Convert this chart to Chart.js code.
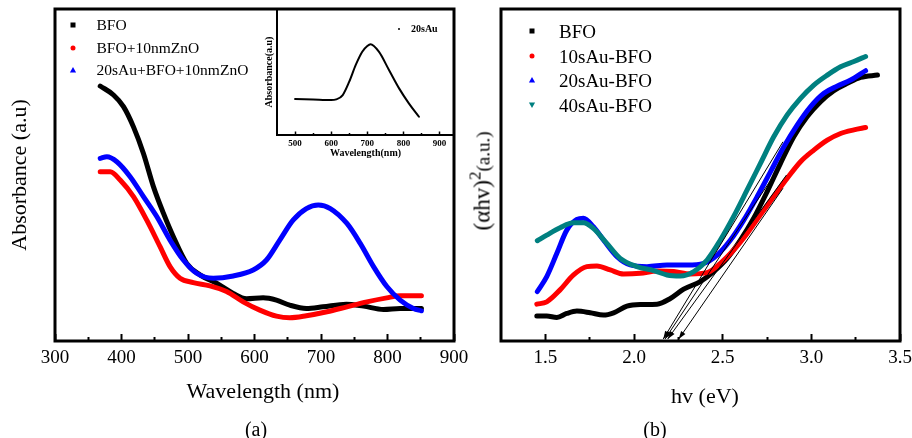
<!DOCTYPE html>
<html>
<head>
<meta charset="utf-8">
<script src="https://cdn.jsdelivr.net/npm/chart.js@4.4.0/dist/chart.umd.min.js"></script>
<style>
html,body{margin:0;padding:0;background:#fff;width:912px;height:438px;overflow:hidden;position:relative;
  font-family:'Liberation Serif','Times New Roman',serif;color:#000}
canvas{position:absolute;top:0}
#ca{left:0}
#cb{left:460px}
#ci{left:260px}
.t{position:absolute;white-space:nowrap;line-height:1;transform:translateY(-50%)}
.c{position:absolute;white-space:nowrap;line-height:1;transform:translate(-50%,-50%)}
svg.m{position:absolute;overflow:visible}
</style>
</head>
<body>
<canvas id="ca" width="486" height="410"></canvas>
<canvas id="ci" width="214" height="165"></canvas>
<canvas id="cb" width="472" height="410"></canvas>
<div id="legA"></div>
<div id="legB"></div>
<div id="legI"></div>
<div id="titleXA" class="c" style="left:263px;top:391px;font-size:22px"></div>
<div id="titleXB" class="c" style="left:705px;top:396px;font-size:22px"></div>
<div class="c" style="left:482px;top:181px;transform:translate(-50%,-50%) rotate(-90deg);">
  <span style="font-size:23px">(&alpha;hv)</span><span style="font-size:17px;position:relative;top:-9px">2</span><span style="font-size:19px">(a.u.)</span>
</div>
<div class="c" style="left:256px;top:429px;font-size:20px">(a)</div>
<div class="c" style="left:655px;top:429px;font-size:20px">(b)</div>
<script>
// ---------- Panel (a): absorbance vs wavelength ----------
const seriesA = ['BFO', 'BFO+10nmZnO', '20sAu+BFO+10nmZnO'];
const colorsA = ['#000000', '#ff0000', '#0000ff'];
const shapesA = ['square', 'circle', 'triUp'];

const bfoWl  = [368,388,403,418,433,448,463,478,498,518,543,568,588,613,633,653,678,703,738,764,794,819,851];
const bfoAbs = [.768,.741,.706,.645,.565,.465,.385,.314,.234,.199,.174,.143,.127,.130,.123,.108,.098,.103,.111,.105,.095,.098,.098];

const znoWl  = [368,383,398,418,438,458,473,488,508,533,558,583,608,633,653,678,709,739,769,799,819,851];
const znoAbs = [.510,.510,.485,.435,.364,.284,.224,.189,.176,.166,.149,.118,.093,.075,.070,.076,.088,.103,.118,.130,.136,.136];

const auZnoWl  = [368,378,393,413,433,453,473,493,513,538,568,598,618,638,658,678,696,714,739,759,779,799,819,839,851];
const auZnoAbs = [.550,.555,.540,.495,.435,.375,.304,.244,.204,.189,.196,.214,.244,.304,.364,.399,.410,.399,.354,.294,.224,.164,.123,.098,.091];

const ticksA  = [300, 400, 500, 600, 700, 800, 900];
const minorA  = [350, 450, 550, 650, 750, 850];
const titleXA = 'Wavelength (nm)';
const titleYA = 'Absorbance (a.u)';

// ---------- Inset: 20sAu ----------
const insetName = '20sAu';
const insetWl  = [500,550,600,614,632,650,668,686,700,709,732,760,788,815,843];
const insetAbs = [.286,.282,.278,.283,.317,.423,.556,.661,.706,.720,.661,.516,.370,.251,.145];
const ticksI  = [500, 600, 700, 800, 900];
const minorI  = [550, 650, 750, 850];

// ---------- Panel (b): Tauc plot ----------
const seriesB = ['BFO', '10sAu-BFO', '20sAu-BFO', '40sAu-BFO'];
const colorsB = ['#000000', '#ff0000', '#0000ff', '#008080'];
const shapesB = ['square', 'circle', 'triUp', 'triDown'];

const bfoE = [1.452,1.508,1.565,1.621,1.678,1.753,1.828,1.885,1.960,2.035,2.130,2.205,2.280,2.374,2.449,2.525,2.600,2.675,2.751,2.826,2.901,2.977,3.052,3.127,3.203,3.278,3.373];
const bfoF = [.075,.075,.071,.083,.090,.085,.078,.085,.105,.110,.111,.128,.156,.179,.209,.249,.304,.370,.450,.535,.615,.676,.721,.754,.776,.794,.801];

const au10E = [1.452,1.508,1.583,1.659,1.734,1.791,1.866,1.941,2.035,2.130,2.224,2.318,2.412,2.487,2.562,2.638,2.713,2.788,2.864,2.939,3.014,3.090,3.165,3.240,3.306];
const au10F = [.111,.118,.154,.199,.224,.226,.214,.202,.204,.211,.209,.202,.206,.234,.274,.324,.380,.435,.490,.540,.575,.605,.625,.636,.643];

const au20E = [1.455,1.508,1.565,1.621,1.678,1.715,1.771,1.828,1.904,1.979,2.073,2.186,2.299,2.393,2.469,2.544,2.619,2.695,2.770,2.845,2.921,2.996,3.071,3.147,3.222,3.306];
const au20F = [.149,.194,.264,.334,.366,.370,.344,.304,.254,.229,.224,.229,.229,.234,.259,.304,.364,.435,.510,.585,.651,.706,.746,.768,.786,.814];

const au40E = [1.455,1.508,1.583,1.659,1.715,1.771,1.847,1.922,2.017,2.111,2.186,2.261,2.337,2.412,2.487,2.562,2.638,2.713,2.788,2.864,2.939,3.014,3.090,3.165,3.240,3.306];
const au40F = [.302,.319,.341,.356,.356,.339,.294,.249,.224,.212,.199,.196,.209,.244,.304,.375,.455,.535,.615,.681,.731,.771,.801,.826,.842,.857];

// tangent (extrapolation) lines: upper end (E, F) and x-axis intercept E
const tangentE1 = [2.840, 2.840, 2.860, 2.840];
const tangentF1 = [0.600, 0.540, 0.500, 0.460];
const tangentE0 = [2.165, 2.175, 2.190, 2.252];

const ticksB = [1.5, 2.0, 2.5, 3.0, 3.5];
const minorB = [1.75, 2.25, 2.75, 3.25];
const titleXB = 'hv (eV)';

// ---------------------------------------------------------
const SERIF = "'Liberation Serif', 'Times New Roman', serif";
Chart.defaults.font.family = SERIF;
Chart.defaults.color = '#000';
Chart.defaults.animation = false;

const pts = (xs, ys) => xs.map((x, i) => ({x, y: ys[i]}));

const framePlugin = {
  id: 'frame',
  afterDraw(chart, args, opts) {
    const {ctx, chartArea: a} = chart;
    ctx.save();
    ctx.strokeStyle = '#000';
    ctx.lineWidth = opts.width || 3;
    ctx.strokeRect(a.left, a.top, a.right - a.left, a.bottom - a.top);
    ctx.restore();
  }
};
const arrowPlugin = {
  id: 'arrows',
  afterDatasetsDraw(chart) {
    const ctx = chart.ctx;
    chart.data.datasets.forEach((ds, i) => {
      if (!ds.arrow) return;
      const d = chart.getDatasetMeta(i).data;
      const p1 = d[d.length - 2], p2 = d[d.length - 1];
      const ang = Math.atan2(p2.y - p1.y, p2.x - p1.x);
      const L = 8, W = 2.6;
      const bx = p2.x - L * Math.cos(ang), by = p2.y - L * Math.sin(ang);
      ctx.save();
      ctx.fillStyle = '#000';
      ctx.beginPath();
      ctx.moveTo(p2.x, p2.y);
      ctx.lineTo(bx + W * Math.sin(ang), by - W * Math.cos(ang));
      ctx.lineTo(bx - W * Math.sin(ang), by + W * Math.cos(ang));
      ctx.closePath();
      ctx.fill();
      ctx.restore();
    });
  }
};

function lineDs(label, data, color, order, width) {
  return {label, data, borderColor: color, backgroundColor: color, borderWidth: width || 5,
    pointRadius: 0, pointHoverRadius: 0, cubicInterpolationMode: 'monotone', fill: false, order,
    borderCapStyle: 'round', borderJoinStyle: 'round'};
}

function xAxes(min, max, majorTicks, minorTicks, fmt, height, tickFont, tickPad, title, titleFont, titlePadB, tl, tlMinor, tw) {
  return {
    x: {type: 'linear', position: 'bottom', min, max, weight: 1,
      afterBuildTicks: s => { s.ticks = majorTicks.map(v => ({value: v})); },
      afterFit: s => { s.height = height; },
      border: {display: false},
      grid: {drawOnChartArea: false, drawTicks: true, tickLength: tl, tickWidth: tw, tickColor: '#000'},
      ticks: {autoSkip: false, maxRotation: 0, padding: tickPad, font: Object.assign({family: SERIF}, tickFont), color: '#000', callback: fmt},
      title: {display: !!title, text: title, font: Object.assign({family: SERIF}, titleFont), color: '#000', padding: {top: 0, bottom: titlePadB}}
    },
    xm: {type: 'linear', position: 'bottom', min, max, weight: 0,
      afterBuildTicks: s => { s.ticks = minorTicks.map(v => ({value: v})); },
      afterFit: s => { s.height = 0; },
      border: {display: false},
      grid: {drawOnChartArea: false, drawTicks: true, tickLength: tlMinor, tickWidth: tw, tickColor: '#000'},
      ticks: {display: false}
    }
  };
}

// ----- Chart (a) -----
const dsA = [
  lineDs(seriesA[0], pts(bfoWl, bfoAbs), colorsA[0], 3),
  lineDs(seriesA[1], pts(znoWl, znoAbs), colorsA[1], 2),
  lineDs(seriesA[2], pts(auZnoWl, auZnoAbs), colorsA[2], 1)
];
const chartA = new Chart(document.getElementById('ca'), {
  type: 'line',
  data: {datasets: dsA},
  options: {
    responsive: false, animation: false,
    layout: {padding: {left: 0, top: 9, right: 32, bottom: 0}},
    plugins: {legend: {display: false}, tooltip: {enabled: false}, frame: {width: 3}},
    scales: Object.assign(
      xAxes(ticksA[0], ticksA[ticksA.length - 1], ticksA, minorA, v => String(v), 69, {size: 19}, 12.6,
        '', {size: 22}, 5.8, -7, -4, 2),
      {y: {min: 0, max: 1, afterFit: s => { s.width = 55; }, border: {display: false},
        grid: {display: false}, ticks: {display: false},
        title: {display: true, text: titleYA, font: {family: SERIF, size: 22}, color: '#000', padding: {top: 7, bottom: 0}}}}
    )
  },
  plugins: [framePlugin]
});

// ----- Inset -----
const chartI = new Chart(document.getElementById('ci'), {
  type: 'line',
  data: {datasets: [lineDs(insetName, pts(insetWl, insetAbs), '#000', 1, 2)]},
  options: {
    responsive: false, animation: false,
    layout: {padding: {left: 0, top: 9, right: 20, bottom: 0}},
    plugins: {legend: {display: false}, tooltip: {enabled: false}, frame: {width: 2}},
    scales: Object.assign(
      xAxes(450, 940, ticksI, minorI, v => String(v), 30, {size: 9, weight: 'bold'}, 7.1,
        'Wavelength(nm)', {size: 10, weight: 'bold'}, 6, -3.5, -2, 1.5),
      {y: {min: 0, max: 1, afterFit: s => { s.width = 17; }, border: {display: false},
        grid: {display: false}, ticks: {display: false},
        title: {display: true, text: 'Absorbance(a.u)', font: {family: SERIF, size: 10, weight: 'bold'}, color: '#000', padding: {top: 3, bottom: 0}}}}
    )
  },
  plugins: [framePlugin]
});

// ----- Chart (b) -----
const dsB = [
  lineDs(seriesB[0], pts(bfoE, bfoF), colorsB[0], 4),
  lineDs(seriesB[1], pts(au10E, au10F), colorsB[1], 3),
  lineDs(seriesB[2], pts(au20E, au20F), colorsB[2], 2),
  lineDs(seriesB[3], pts(au40E, au40F), colorsB[3], 1)
];
tangentE1.forEach((e, i) => {
  dsB.push({label: 'tangent' + i, arrow: true, data: [{x: e, y: tangentF1[i]}, {x: tangentE0[i], y: 0.006}],
    borderColor: '#000', borderWidth: 1, pointRadius: 0, pointHoverRadius: 0, tension: 0, order: 0, fill: false});
});
const chartB = new Chart(document.getElementById('cb'), {
  type: 'line',
  data: {datasets: dsB},
  options: {
    responsive: false, animation: false,
    layout: {padding: {left: 0, top: 9, right: 32, bottom: 0}},
    plugins: {legend: {display: false}, tooltip: {enabled: false}, frame: {width: 3}},
    scales: Object.assign(
      xAxes(1.25, 3.5, ticksB, minorB, v => Number(v).toFixed(1), 69, {size: 19}, 12.6,
        '', {size: 22}, 0.8, -7, -4, 2),
      {y: {min: 0, max: 1, afterFit: s => { s.width = 41; }, border: {display: false},
        grid: {display: false}, ticks: {display: false}, title: {display: false}}}
    )
  },
  plugins: [framePlugin, arrowPlugin]
});

document.getElementById('titleXA').textContent = titleXA;
document.getElementById('titleXB').textContent = titleXB;

// ----- HTML legends built from chart datasets -----
function marker(shape, color, cx, cy, s) {
  const h = s / 2;
  let inner;
  if (shape === 'square') inner = `<rect x="${-h}" y="${-h}" width="${s}" height="${s}" fill="${color}"/>`;
  else if (shape === 'triUp') inner = `<polygon points="0,${-h - 0.6} ${h + 0.6},${h} ${-h - 0.6},${h}" fill="${color}"/>`;
  else if (shape === 'triDown') inner = `<polygon points="0,${h + 0.6} ${h + 0.6},${-h} ${-h - 0.6},${-h}" fill="${color}"/>`;
  else inner = `<circle cx="0" cy="0" r="${h}" fill="${color}"/>`;
  return `<svg class="m" width="1" height="1" style="left:${cx}px;top:${cy}px">${inner}</svg>`;
}
function buildLegend(el, chart, shapes, mx, tx, y0, dy, fontSize, markSize, bold) {
  let html = '';
  chart.data.datasets.forEach((ds, i) => {
    if (ds.arrow) return;
    const cy = y0 + i * dy;
    html += marker(shapes[i], ds.borderColor, mx, cy, markSize);
    html += `<div class="t" style="left:${tx}px;top:${cy}px;font-size:${fontSize}px;${bold ? 'font-weight:bold;' : ''}">${ds.label}</div>`;
  });
  el.innerHTML = html;
}
buildLegend(document.getElementById('legA'), chartA, shapesA, 73, 96.5, 25, 22.5, 15.5, 5);
buildLegend(document.getElementById('legB'), chartB, shapesB, 531.5, 559, 30.7, 24.8, 19, 5);
buildLegend(document.getElementById('legI'), chartI, ['circle'], 399, 411, 29.3, 0, 10, 2, true);
</script>
</body>
</html>
